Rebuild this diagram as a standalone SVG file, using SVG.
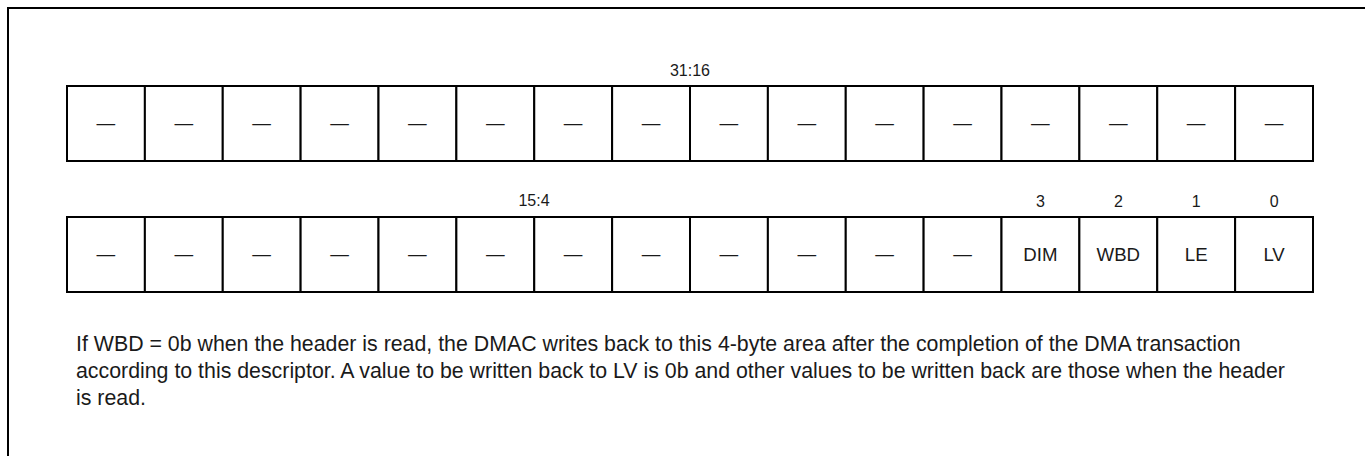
<svg xmlns="http://www.w3.org/2000/svg" width="1365" height="456" viewBox="0 0 1365 456">
<style>
.frame{fill:none;stroke:#000;stroke-width:2}
.cell{fill:#fff;stroke:#000;stroke-width:2}
.t{font-family:"Liberation Sans",Arial,sans-serif;fill:#1a1a1a}
.c{font-size:18.67px;text-anchor:middle}
.l{font-size:16px;text-anchor:middle}
.b{font-size:21.33px}
</style>
<rect class="frame" x="8" y="8" width="1400" height="500"/>
<g id="labels">
<text class="t l" x="690" y="76">31:16</text>
<text class="t l" x="534" y="206">15:4</text>
<text class="t l" x="1040.5" y="207">3</text>
<text class="t l" x="1118.4" y="207">2</text>
<text class="t l" x="1196.3" y="207">1</text>
<text class="t l" x="1274.1" y="207">0</text>
</g>
<g id="row1">
<g id="r1c0"><rect class="cell" x="67" y="86" width="77.875" height="75"/><text class="t c" x="105.9" y="129">—</text></g>
<g id="r1c1"><rect class="cell" x="144.875" y="86" width="77.875" height="75"/><text class="t c" x="183.8" y="129">—</text></g>
<g id="r1c2"><rect class="cell" x="222.75" y="86" width="77.875" height="75"/><text class="t c" x="261.7" y="129">—</text></g>
<g id="r1c3"><rect class="cell" x="300.625" y="86" width="77.875" height="75"/><text class="t c" x="339.6" y="129">—</text></g>
<g id="r1c4"><rect class="cell" x="378.5" y="86" width="77.875" height="75"/><text class="t c" x="417.4" y="129">—</text></g>
<g id="r1c5"><rect class="cell" x="456.375" y="86" width="77.875" height="75"/><text class="t c" x="495.3" y="129">—</text></g>
<g id="r1c6"><rect class="cell" x="534.25" y="86" width="77.875" height="75"/><text class="t c" x="573.2" y="129">—</text></g>
<g id="r1c7"><rect class="cell" x="612.125" y="86" width="77.875" height="75"/><text class="t c" x="651.1" y="129">—</text></g>
<g id="r1c8"><rect class="cell" x="690" y="86" width="77.875" height="75"/><text class="t c" x="728.9" y="129">—</text></g>
<g id="r1c9"><rect class="cell" x="767.875" y="86" width="77.875" height="75"/><text class="t c" x="806.8" y="129">—</text></g>
<g id="r1c10"><rect class="cell" x="845.75" y="86" width="77.875" height="75"/><text class="t c" x="884.7" y="129">—</text></g>
<g id="r1c11"><rect class="cell" x="923.625" y="86" width="77.875" height="75"/><text class="t c" x="962.6" y="129">—</text></g>
<g id="r1c12"><rect class="cell" x="1001.5" y="86" width="77.875" height="75"/><text class="t c" x="1040.4" y="129">—</text></g>
<g id="r1c13"><rect class="cell" x="1079.375" y="86" width="77.875" height="75"/><text class="t c" x="1118.3" y="129">—</text></g>
<g id="r1c14"><rect class="cell" x="1157.25" y="86" width="77.875" height="75"/><text class="t c" x="1196.2" y="129">—</text></g>
<g id="r1c15"><rect class="cell" x="1235.125" y="86" width="77.875" height="75"/><text class="t c" x="1274.1" y="129">—</text></g>
</g>
<g id="row2">
<g id="r2c0"><rect class="cell" x="67" y="217" width="77.875" height="75"/><text class="t c" x="105.9" y="260">—</text></g>
<g id="r2c1"><rect class="cell" x="144.875" y="217" width="77.875" height="75"/><text class="t c" x="183.8" y="260">—</text></g>
<g id="r2c2"><rect class="cell" x="222.75" y="217" width="77.875" height="75"/><text class="t c" x="261.7" y="260">—</text></g>
<g id="r2c3"><rect class="cell" x="300.625" y="217" width="77.875" height="75"/><text class="t c" x="339.6" y="260">—</text></g>
<g id="r2c4"><rect class="cell" x="378.5" y="217" width="77.875" height="75"/><text class="t c" x="417.4" y="260">—</text></g>
<g id="r2c5"><rect class="cell" x="456.375" y="217" width="77.875" height="75"/><text class="t c" x="495.3" y="260">—</text></g>
<g id="r2c6"><rect class="cell" x="534.25" y="217" width="77.875" height="75"/><text class="t c" x="573.2" y="260">—</text></g>
<g id="r2c7"><rect class="cell" x="612.125" y="217" width="77.875" height="75"/><text class="t c" x="651.1" y="260">—</text></g>
<g id="r2c8"><rect class="cell" x="690" y="217" width="77.875" height="75"/><text class="t c" x="728.9" y="260">—</text></g>
<g id="r2c9"><rect class="cell" x="767.875" y="217" width="77.875" height="75"/><text class="t c" x="806.8" y="260">—</text></g>
<g id="r2c10"><rect class="cell" x="845.75" y="217" width="77.875" height="75"/><text class="t c" x="884.7" y="260">—</text></g>
<g id="r2c11"><rect class="cell" x="923.625" y="217" width="77.875" height="75"/><text class="t c" x="962.6" y="260">—</text></g>
<g id="r2c12"><rect class="cell" x="1001.5" y="217" width="77.875" height="75"/><text class="t c" x="1040.4" y="261">DIM</text></g>
<g id="r2c13"><rect class="cell" x="1079.375" y="217" width="77.875" height="75"/><text class="t c" x="1118.3" y="261">WBD</text></g>
<g id="r2c14"><rect class="cell" x="1157.25" y="217" width="77.875" height="75"/><text class="t c" x="1196.2" y="261">LE</text></g>
<g id="r2c15"><rect class="cell" x="1235.125" y="217" width="77.875" height="75"/><text class="t c" x="1274.1" y="261">LV</text></g>
</g>
<g id="connectors"/>
<g id="note">
<text class="t b" x="76" y="351">If WBD = 0b when the header is read, the DMAC writes back to this 4-byte area after the completion of the DMA transaction</text>
<text class="t b" x="76" y="378">according to this descriptor. A value to be written back to LV is 0b and other values to be written back are those when the header</text>
<text class="t b" x="76" y="405">is read.</text>
</g>
</svg>
